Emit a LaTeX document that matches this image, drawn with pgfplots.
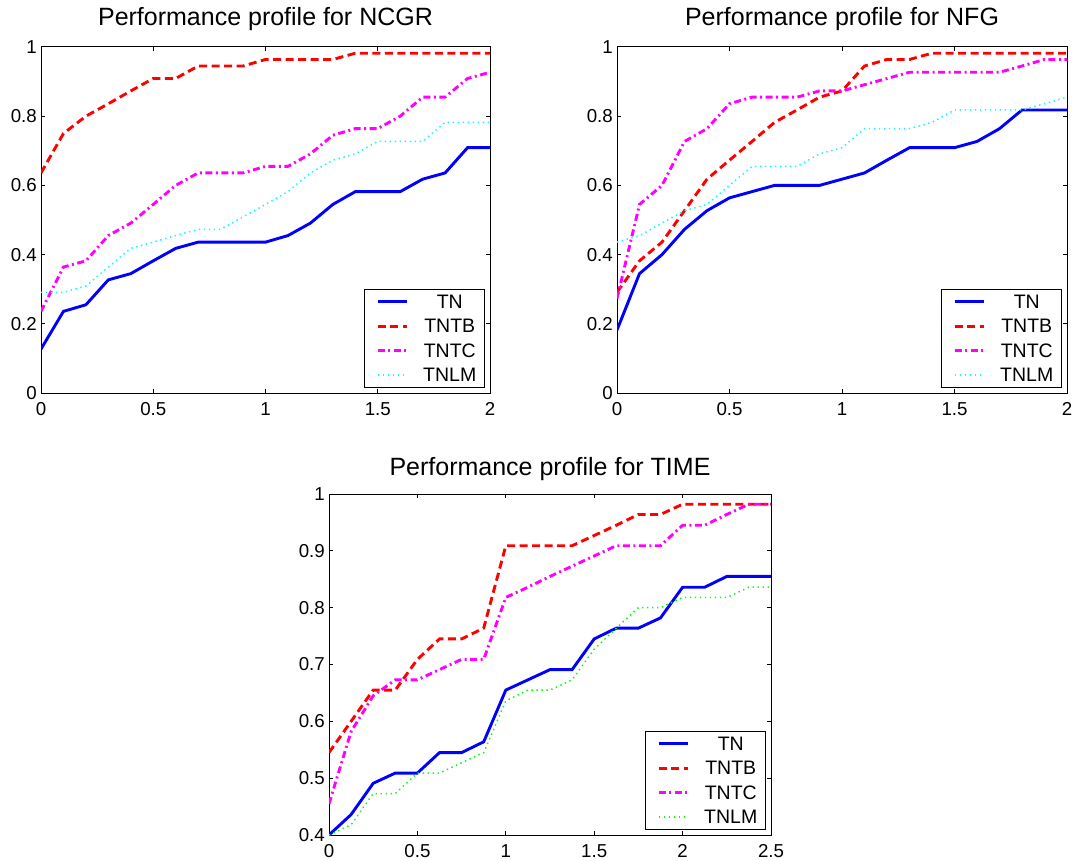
\documentclass[border=0pt]{standalone}
\usepackage{pgfplots}
\usepackage{pgfplotstable}
\pgfplotsset{compat=1.18}
\usepackage{fontspec}
\setmainfont{Liberation Sans}
\definecolor{mblue}{rgb}{0,0,1}
\definecolor{mred}{rgb}{1,0,0}
\definecolor{mmag}{rgb}{1,0,1}
\definecolor{mcyan}{rgb}{0,1,1}
\definecolor{mgreen}{rgb}{0,1,0}

\pgfplotstableread{
x tn tntb tntc tnlm
0.0 0.127 0.636 0.236 0.291
0.1 0.236 0.750 0.364 0.291
0.2 0.255 0.800 0.382 0.309
0.3 0.327 0.836 0.455 0.364
0.4 0.345 0.873 0.491 0.418
0.5 0.382 0.909 0.545 0.436
0.6 0.418 0.909 0.600 0.455
0.7 0.436 0.945 0.636 0.473
0.8 0.436 0.945 0.636 0.473
0.9 0.436 0.945 0.636 0.509
1.0 0.436 0.964 0.655 0.545
1.1 0.455 0.964 0.655 0.582
1.2 0.491 0.964 0.691 0.636
1.3 0.545 0.964 0.745 0.673
1.4 0.582 0.982 0.764 0.691
1.5 0.582 0.982 0.764 0.727
1.6 0.582 0.982 0.800 0.727
1.7 0.618 0.982 0.855 0.727
1.8 0.636 0.982 0.855 0.782
1.9 0.709 0.982 0.909 0.782
2.0 0.709 0.982 0.927 0.782
}\ncgr

\pgfplotstableread{
x tn tntb tntc tnlm
0.0 0.182 0.291 0.273 0.436
0.1 0.345 0.382 0.545 0.455
0.2 0.400 0.436 0.600 0.491
0.3 0.473 0.527 0.727 0.527
0.4 0.527 0.618 0.764 0.545
0.5 0.564 0.673 0.836 0.600
0.6 0.582 0.727 0.855 0.655
0.7 0.600 0.782 0.855 0.655
0.8 0.600 0.818 0.855 0.655
0.9 0.600 0.855 0.873 0.691
1.0 0.618 0.873 0.873 0.709
1.1 0.636 0.945 0.891 0.764
1.2 0.673 0.964 0.909 0.764
1.3 0.709 0.964 0.927 0.764
1.4 0.709 0.982 0.927 0.782
1.5 0.709 0.982 0.927 0.818
1.6 0.727 0.982 0.927 0.818
1.7 0.764 0.982 0.927 0.818
1.8 0.818 0.982 0.945 0.818
1.9 0.818 0.982 0.964 0.836
2.0 0.818 0.982 0.964 0.855
}\nfg

\pgfplotstableread{
x tn tntb tntc tnlm
0.000 0.400 0.545 0.455 0.400
0.125 0.436 0.600 0.582 0.418
0.250 0.491 0.655 0.645 0.473
0.375 0.509 0.655 0.673 0.473
0.500 0.509 0.709 0.673 0.509
0.625 0.545 0.745 0.691 0.509
0.750 0.545 0.745 0.709 0.527
0.875 0.564 0.764 0.709 0.545
1.000 0.655 0.909 0.818 0.636
1.125 0.673 0.909 0.836 0.655
1.250 0.691 0.909 0.855 0.655
1.375 0.691 0.909 0.873 0.673
1.500 0.745 0.927 0.891 0.727
1.625 0.764 0.945 0.909 0.764
1.750 0.764 0.964 0.909 0.800
1.875 0.782 0.964 0.909 0.800
2.000 0.836 0.982 0.945 0.818
2.125 0.836 0.982 0.945 0.818
2.250 0.855 0.982 0.964 0.818
2.375 0.855 0.982 0.982 0.836
2.500 0.855 0.982 0.982 0.836
}\timetab

\pgfplotsset{
  pp/.style={
    scale only axis,
    anchor=south west,
    axis line style={line width=1pt},
    every tick/.style={black, line width=1pt},
    major tick length=4pt,
    tick align=inside,
    title style={font=\fontsize{25}{28}\selectfont, anchor=base, at={(0.5,1)}, yshift=15pt},
    tick label style={font=\fontsize{18.7}{20}\selectfont},
    xticklabel style={anchor=base, yshift=-22pt, inner sep=0pt},
    yticklabel style={anchor=east, xshift=-4pt, inner sep=0pt},
    legend cell align=center,
    legend style={at={(1,0)}, anchor=south east, xshift=-5pt, yshift=5pt,
      draw=black, line width=1.4pt, fill=white,
      font=\fontsize{19.5}{20}\selectfont,
      inner xsep=8pt, inner ysep=5.5pt, row sep=11pt, column sep=15pt,
      nodes={inner sep=0pt, text height=13.5pt, text depth=0pt}},
    legend image code/.code={\path (0pt,0pt); \draw[#1] (4pt,0pt) -- (33pt,0pt);},
  },
  sTN/.style={mblue, line width=2.9pt, solid},
  sTB/.style={mred, line width=2.9pt, dash pattern=on 8pt off 4.5pt},
  sTC/.style={mmag, line width=2.9pt, dash pattern=on 7pt off 3.5pt on 2pt off 3.5pt},
  sLM/.style={line width=1.5pt, dash pattern=on 1.4pt off 3.6pt},
}

\begin{document}
\begin{tikzpicture}
\path[use as bounding box] (0pt,0pt) rectangle (1075pt,-861pt);

\begin{axis}[pp, at={(41pt,-393pt)}, width=449pt, height=346pt,
  xmin=0, xmax=2, ymin=0, ymax=1,
  xtick={0,0.5,1,1.5,2}, xticklabels={0,0.5,1,1.5,2},
  ytick={0,0.2,0.4,0.6,0.8,1}, yticklabels={0,0.2,0.4,0.6,0.8,1},
  title={Performance profile for NCGR}]
\addplot[sTN] table[x=x, y=tn] {\ncgr};
\addplot[sTB] table[x=x, y=tntb] {\ncgr};
\addplot[sTC] table[x=x, y=tntc] {\ncgr};
\addplot[sLM, mcyan] table[x=x, y=tnlm] {\ncgr};
\legend{TN,TNTB,TNTC,TNLM}
\end{axis}

\begin{axis}[pp, at={(617pt,-393pt)}, width=450pt, height=346pt,
  xmin=0, xmax=2, ymin=0, ymax=1,
  xtick={0,0.5,1,1.5,2}, xticklabels={0,0.5,1,1.5,2},
  ytick={0,0.2,0.4,0.6,0.8,1}, yticklabels={0,0.2,0.4,0.6,0.8,1},
  title={Performance profile for NFG}]
\addplot[sTN] table[x=x, y=tn] {\nfg};
\addplot[sTB] table[x=x, y=tntb] {\nfg};
\addplot[sTC] table[x=x, y=tntc] {\nfg};
\addplot[sLM, mcyan] table[x=x, y=tnlm] {\nfg};
\legend{TN,TNTB,TNTC,TNLM}
\end{axis}

\begin{axis}[pp, at={(329pt,-835pt)}, width=442pt, height=341pt,
  xmin=0, xmax=2.5, ymin=0.4, ymax=1,
  xtick={0,0.5,1,1.5,2,2.5}, xticklabels={0,0.5,1,1.5,2,2.5},
  ytick={0.4,0.5,0.6,0.7,0.8,0.9,1}, yticklabels={0.4,0.5,0.6,0.7,0.8,0.9,1},
  title style={yshift=-2.5pt},
  title={Performance profile for TIME}]
\addplot[sTN] table[x=x, y=tn] {\timetab};
\addplot[sTB] table[x=x, y=tntb] {\timetab};
\addplot[sTC] table[x=x, y=tntc] {\timetab};
\addplot[sLM, mgreen] table[x=x, y=tnlm] {\timetab};
\legend{TN,TNTB,TNTC,TNLM}
\end{axis}
\end{tikzpicture}
\end{document}
